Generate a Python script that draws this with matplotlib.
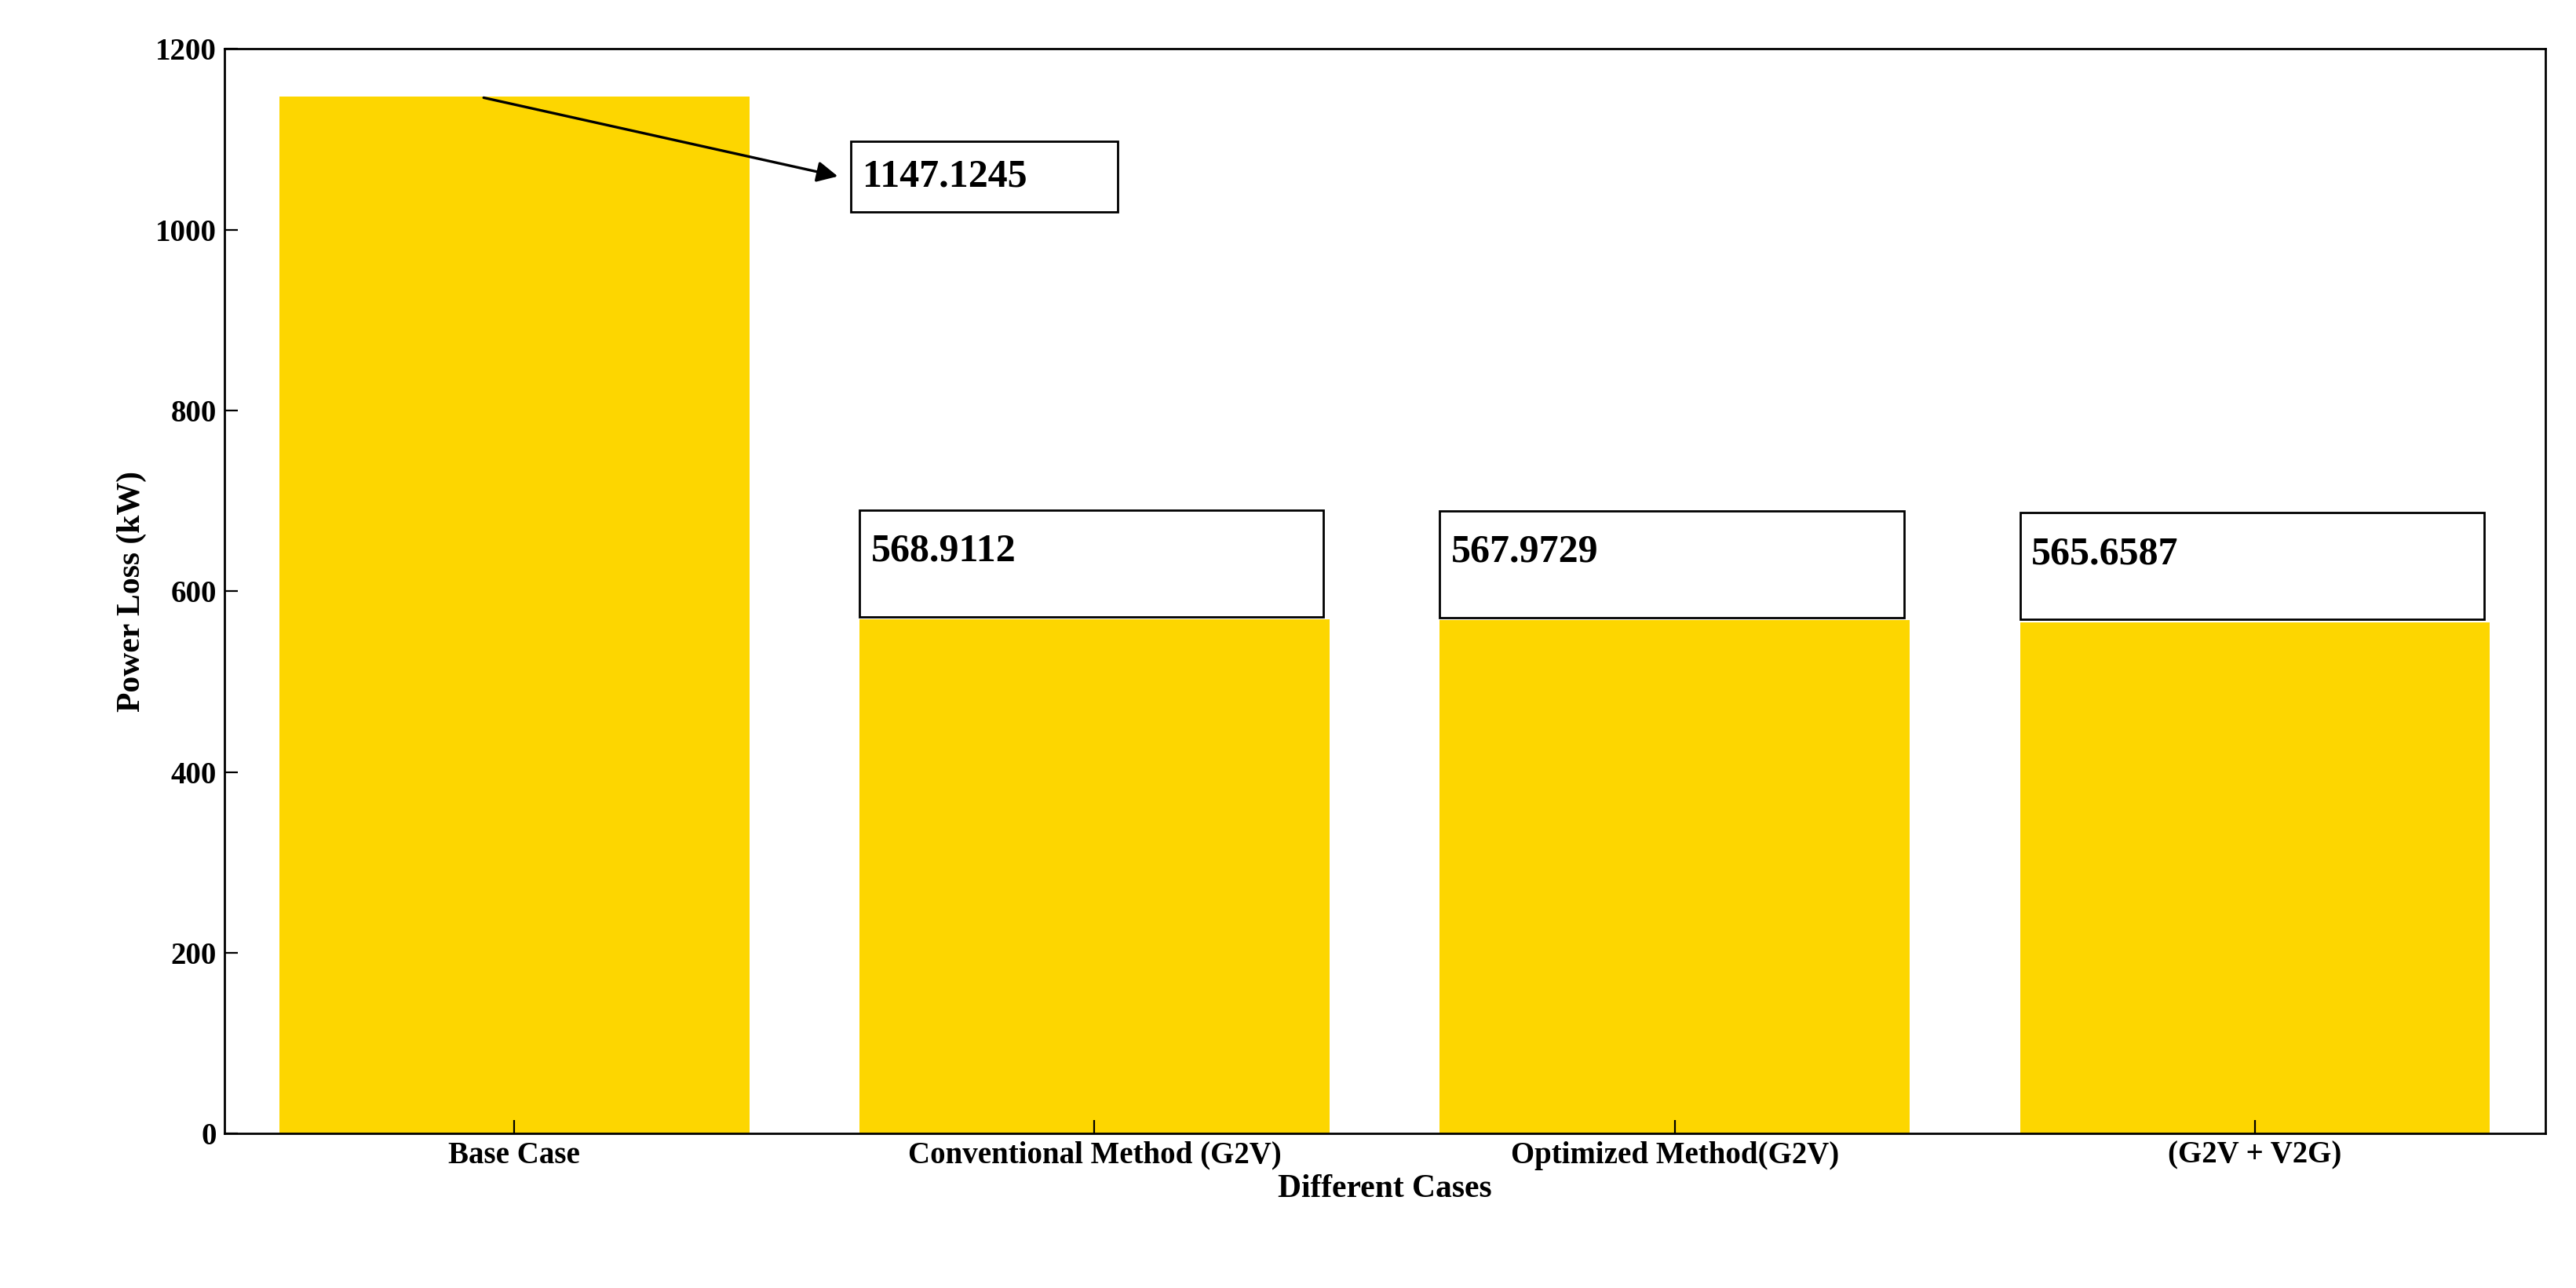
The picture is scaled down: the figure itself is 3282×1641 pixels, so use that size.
import matplotlib
matplotlib.use("Agg")
import matplotlib.pyplot as plt
from matplotlib.patches import Rectangle

categories = ["Base Case", "Conventional Method (G2V)", "Optimized Method(G2V)", "(G2V + V2G)"]
values = [1147.1245, 568.9112, 567.9729, 565.6587]
labels = ["1147.1245", "568.9112", "567.9729", "565.6587"]

plt.rcParams['font.family'] = ['Liberation Serif', 'DejaVu Serif']
plt.rcParams['font.weight'] = 'bold'

fig = plt.figure(figsize=(16.41, 8.205), dpi=200)
ax = fig.add_axes([0.087, 0.12, 0.901, 0.842])
x = list(range(1, len(values) + 1))
ax.bar(x, values, width=0.81, color='#FDD600')
ax.set_xlim(0.5, 4.5)
ax.set_ylim(0, 1200)
ax.set_xticks(x)
ax.set_xticklabels(categories, fontsize=14, fontweight='bold')
ax.tick_params(axis='y', labelsize=14, direction='in', length=6)
ax.tick_params(axis='x', direction='in', length=6, top=False)
for lab in ax.get_yticklabels():
    lab.set_fontweight('bold')
ax.set_xlabel("Different Cases", fontsize=15, fontweight='bold', labelpad=2)
ax.set_ylabel("Power Loss (kW)", fontsize=15, fontweight='bold')
for s in ax.spines.values():
    s.set_linewidth(1.0)

# boxes for bars 2-4
for xi, v, lab in zip(x[1:], values[1:], labels[1:]):
    x0 = xi - 0.405
    ax.add_patch(Rectangle((x0, v + 3), 0.80, 118, fill=False, edgecolor='black', lw=1.0))
    ax.text(x0 + 0.02, v + 95, lab, fontsize=18, fontweight='bold', va='top', ha='left')

# annotation for base case
ax.add_patch(Rectangle((1.58, 1020), 0.46, 78, fill=False, edgecolor='black', lw=1.0))
ax.text(1.60, 1058, labels[0], fontsize=18, fontweight='bold', va='center', ha='left')
ax.annotate("", xy=(1.565, 1058), xytext=(0.94, values[0]),
            arrowprops=dict(arrowstyle='-|>', color='black', lw=1.2, mutation_scale=20))

fig.savefig("out.png", dpi=200)
